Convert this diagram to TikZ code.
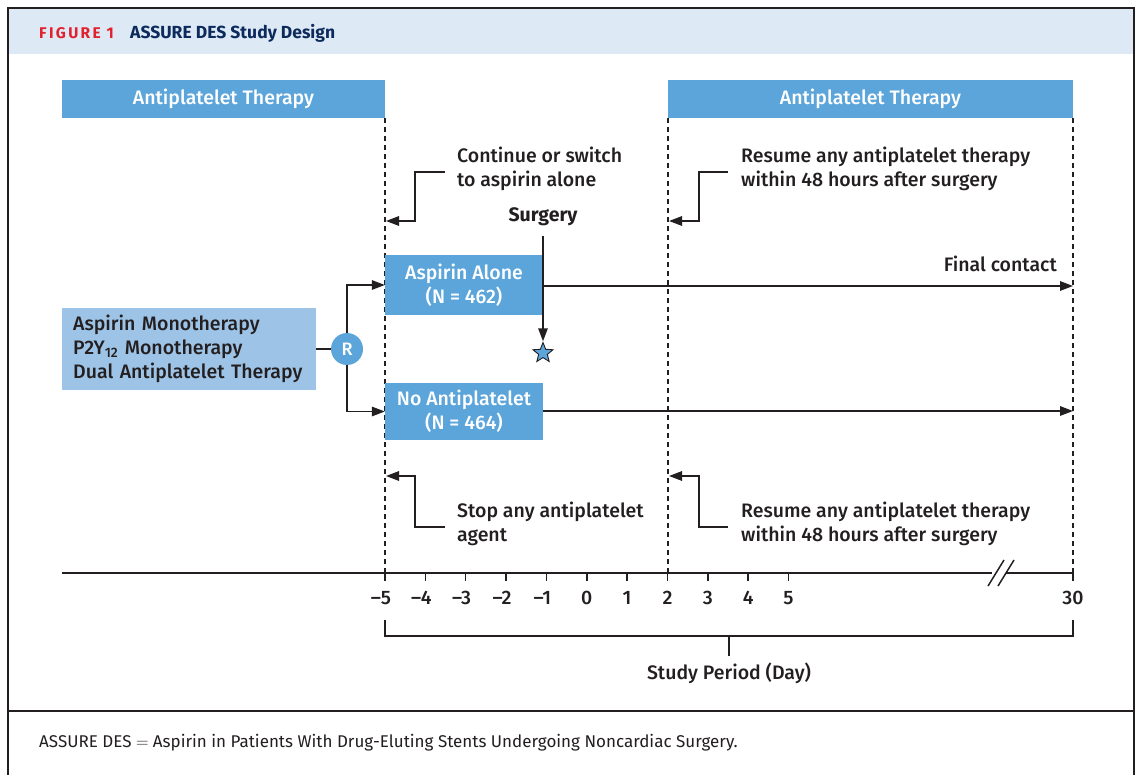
\documentclass[tikz,border=0pt]{standalone}
\usepackage{fontspec}
\setmainfont{Fira Sans}[UprightFont={* Medium},BoldFont={* Bold}]
\newfontfamily\regfont{Fira Sans}
\newfontfamily\heavyfont{Fira Sans}[UprightFont={* Bold},LetterSpace=15]
\usetikzlibrary{arrows.meta,shapes.geometric}
\definecolor{headbg}{HTML}{DDEAF6}
\definecolor{barblue}{HTML}{5CA5DA}
\definecolor{lightblue}{HTML}{9DC3E6}
\definecolor{figred}{HTML}{E3202E}
\definecolor{navy}{HTML}{0D2A5C}
\definecolor{ink}{HTML}{231F20}
\tikzset{
  bar/.style={fill=barblue,text=white,minimum height=38pt,inner sep=0pt,font=\fontsize{19.5}{23}\selectfont},
  armbox/.style={fill=barblue,text=white,align=center,inner sep=0pt,font=\fontsize{19.5}{24}\selectfont},
  lbl/.style={text=ink,align=left,inner sep=0pt,font=\fontsize{19.5}{24}\selectfont},
  conn/.style={draw=ink,line width=1.5pt},
  arr/.style={conn,-{Triangle[length=13pt,width=9.5pt]}},
  vdash/.style={draw=ink,line width=1.5pt,dash pattern=on 5pt off 4pt},
  ticklbl/.style={text=ink,inner sep=0pt,font=\fontsize{19.5}{23}\selectfont},
}
\begin{document}
\begin{tikzpicture}[x=1pt,y=-1pt]
\useasboundingbox (0,0) rectangle (1142,775);
\fill[white] (0,0) rectangle (1142,775);
% header
\fill[headbg] (8,8) rectangle (1134,54);
\draw[ink,line width=1.5pt] (8,776) -- (8,8) -- (1134,8) -- (1134,776);
\draw[ink,line width=1.2pt] (8,711) -- (1134,711);
\node[anchor=west,inner sep=0pt,text=figred,font=\fontsize{15.5}{16}\heavyfont] (fig) at (39,33) {FIGURE 1};
\node[anchor=west,inner sep=0pt,text=navy,font=\fontsize{17.5}{18}\selectfont\bfseries] (title) at (130,33) {ASSURE DES Study Design};
% therapy bars
\node[bar,minimum width=323pt] (barL) at (223.5,99) {Antiplatelet Therapy};
\node[bar,minimum width=405pt] (barR) at (870.5,99) {Antiplatelet Therapy};
% dashed verticals
\coordinate (dA1) at (385,118); \coordinate (dA2) at (385,573);
\coordinate (dB1) at (668,118); \coordinate (dB2) at (668,573);
\coordinate (dC1) at (1073,118); \coordinate (dC2) at (1073,573);
\draw[vdash] (dA1) -- (dA2);
\draw[vdash] (dB1) -- (dB2);
\draw[vdash] (dC1) -- (dC2);
% left box and R
\node[fill=lightblue,text=ink,align=left,anchor=west,minimum width=254pt,minimum height=82pt,inner sep=0pt,text width=232pt,inner xsep=11pt,font=\fontsize{19.5}{24}\selectfont] (pop) at (62,349) {Aspirin Monotherapy\\P2Y\textsubscript{12} Monotherapy\\Dual Antiplatelet Therapy};
\node[circle,fill=barblue,text=white,minimum size=32pt,inner sep=0pt,font=\fontsize{18}{20}\selectfont] (R) at (347,349) {R};
% arm boxes
\node[armbox,minimum width=158pt,minimum height=60pt] (asp) at (464,285) {Aspirin Alone\\(N = 462)};
\node[armbox,minimum width=158pt,minimum height=57pt] (noap) at (464,411.5) {No Antiplatelet\\(N = 464)};
\draw[conn] (pop.east) -- (R.west);
\draw[arr] (R.north) |- (asp.west);
\draw[arr] (R.south) |- (noap.west);
% arm lines
\coordinate (endA) at (1073,286);
\coordinate (endB) at (1073,411);
\draw[arr] (asp.east |- endA) -- (endA);
\draw[arr] (noap.east |- endB) -- (endB);
\node[lbl,anchor=east] (final) at (1057,264) {Final contact};
% surgery
\node[lbl,anchor=center,font=\fontsize{19.5}{24}\selectfont\bfseries] (surg) at (543,217) {Surgery};
\node[star,star points=5,star point ratio=2.3,fill=barblue,draw=ink,line width=0.9pt,minimum size=21pt,inner sep=0pt] (star) at (543,353) {};
\coordinate (sTop) at (543,236);
\draw[arr] (sTop) -- (star.north);
% callouts
\node[lbl,anchor=west] (c1) at (457,169) {Continue or switch\\to aspirin alone};
\node[lbl,anchor=west] (c2) at (741,169) {Resume any antiplatelet therapy\\within 48 hours after surgery};
\node[lbl,anchor=west] (c3) at (457,524) {Stop any antiplatelet\\agent};
\node[lbl,anchor=west] (c4) at (741,524) {Resume any antiplatelet therapy\\within 48 hours after surgery};
\coordinate (t1) at (386,221); \coordinate (t2) at (669,221);
\coordinate (t3) at (386,476); \coordinate (t4) at (669,476);
\draw[arr] (445,172) -- (415,172) -- (415,221) -- (t1);
\draw[arr] (728,172) -- (699,172) -- (699,221) -- (t2);
\draw[arr] (445,527) -- (415,527) -- (415,476) -- (t3);
\draw[arr] (728,527) -- (699,527) -- (699,476) -- (t4);
% timeline
\coordinate (tl0) at (62,573); \coordinate (tl1) at (1073,573);
\draw[conn] (tl0) -- (tl1);
\foreach \i/\lab in {0/{\textendash5},1/{\textendash4},2/{\textendash3},3/{\textendash2},4/{\textendash1},5/0,6/1,7/2,8/3,9/4,10/5}{
  \draw[conn] ({385+40.35*\i},573) -- ({385+40.35*\i},581);
  \node[ticklbl] (tk\i) at ({385+40.35*\i-(\i<5 ? 4 : 0)},598) {\lab};
}
\draw[conn] (1073,573) -- (1073,581);
\node[ticklbl] (tk30) at (1073,598) {30};
% break mark
\fill[white] (992,566) rectangle (1006,580);
\draw[ink,line width=1.5pt] (988,586) -- (1004,560);
\draw[ink,line width=1.5pt] (998,586) -- (1014,560);
% bracket
\draw[conn] (385,620) -- (385,636) -- (1073,636) -- (1073,620);
\draw[conn] (729,636) -- (729,656);
\node[lbl,anchor=center] (sp) at (729,673) {Study Period (Day)};
% footer
\node[anchor=west,inner sep=0pt,text=ink,font=\fontsize{17}{18}\regfont] (foot) at (39,743) {ASSURE DES $=$ Aspirin in Patients With Drug-Eluting Stents Undergoing Noncardiac Surgery.};
\end{tikzpicture}
\end{document}
